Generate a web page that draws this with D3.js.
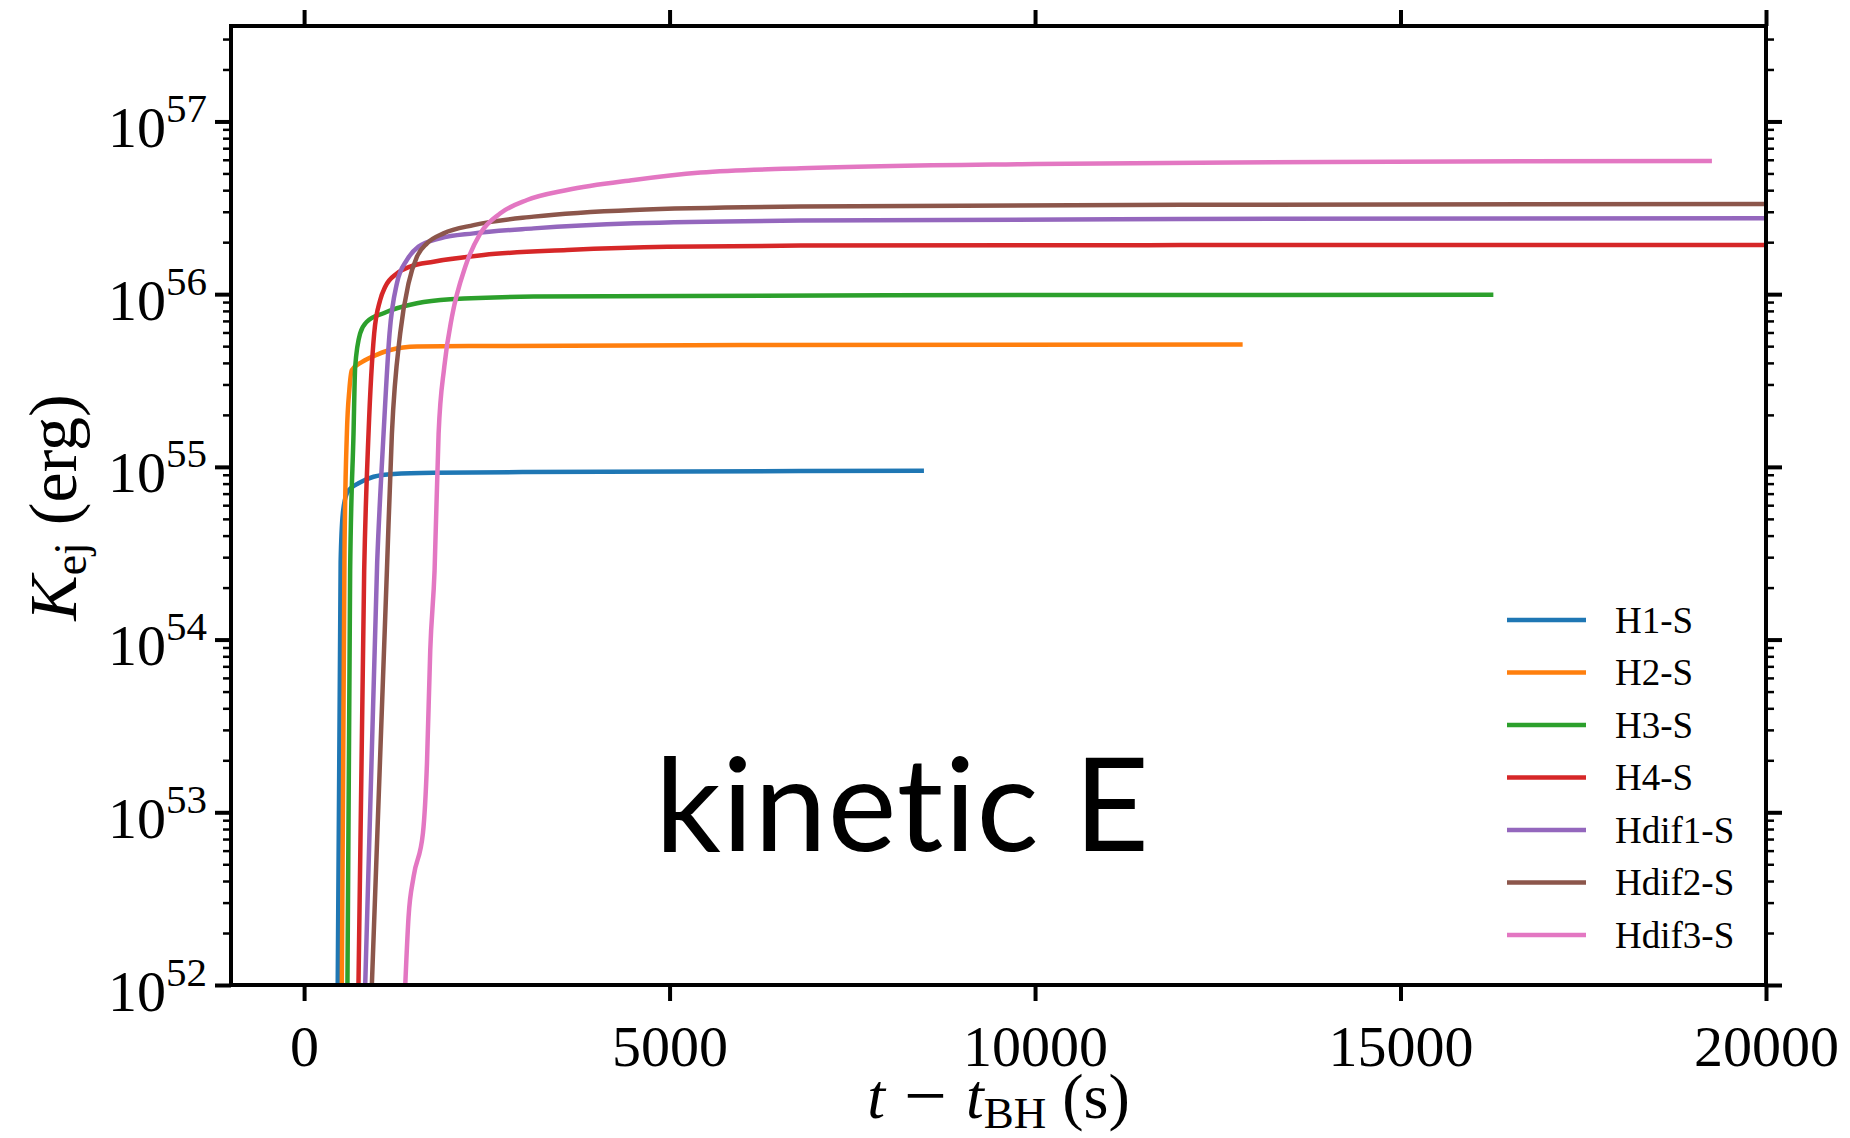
<!DOCTYPE html>
<html>
<head>
<meta charset="utf-8">
<script src="https://cdn.jsdelivr.net/npm/d3@7"></script>
<style>
    body { margin: 0; background: #fff; }
    svg { display: block; }
    .serif { font-family: "Liberation Serif", "Times New Roman", serif; }
</style>
</head>
<body>
<div id="chart"></div>
<script>
const seriesNames = ["H1-S", "H2-S", "H3-S", "H4-S", "Hdif1-S", "Hdif2-S", "Hdif3-S"]
const seriesColors = ["#1f77b4", "#ff7f0e", "#2ca02c", "#d62728", "#9467bd", "#8c564b", "#e377c2"]

// t - t_BH (s) and K_ej (erg)
const h1T = [460, 500, 530, 585, 650, 744, 950, 1224, 1772, 3000, 6795, 8480]
const h1K = [1e52, 2.82e54, 5.37e54, 7.03e54, 7.59e54, 8.04e54, 8.77e54, 9.10e54, 9.25e54, 9.33e54, 9.46e54, 9.51e54]

const h2T = [516, 553, 585, 620, 653, 800, 1000, 1178, 1544, 2500, 6000, 12840]
const h2K = [1e52, 3.31e54, 1.55e55, 2.82e55, 3.63e55, 4.07e55, 4.47e55, 4.75e55, 4.97e55, 5.01e55, 5.07e55, 5.11e55]

const h3T = [593, 630, 676, 699, 767, 859, 1087, 1544, 2000, 3141, 8000, 16270]
const h3K = [1e52, 2.51e54, 1.55e55, 3.80e55, 5.93e55, 6.92e55, 7.76e55, 8.85e55, 9.33e55, 9.68e55, 9.86e55, 9.91e55]

const h4T = [744, 822, 881, 959, 1041, 1110, 1270, 1452, 1771, 2456, 3598, 4968, 6795, 12000, 20000]
const h4K = [1e52, 2.51e54, 1.55e55, 5.93e55, 9.25e55, 1.104e56, 1.318e56, 1.445e56, 1.542e56, 1.687e56, 1.803e56, 1.884e56, 1.910e56, 1.923e56, 1.928e56]

const hdif1T = [836, 1000, 1087, 1169, 1270, 1407, 1566, 1863, 2319, 3141, 4511, 6795, 12000, 20000]
const hdif1K = [1e52, 2.82e54, 1.55e55, 5.93e55, 1.156e56, 1.578e56, 1.884e56, 2.104e56, 2.249e56, 2.404e56, 2.570e56, 2.667e56, 2.723e56, 2.754e56]

const hdif2T = [927, 1133, 1201, 1315, 1429, 1544, 1681, 1908, 2319, 3141, 4511, 6795, 12000, 20000]
const hdif2K = [1e52, 2.51e54, 1.55e55, 5.93e55, 1.156e56, 1.648e56, 1.968e56, 2.249e56, 2.512e56, 2.812e56, 3.076e56, 3.214e56, 3.289e56, 3.327e56]

const hdif3T = [1384, 1429, 1498, 1626, 1681, 1726, 1785, 1840, 1918, 2023, 2206, 2411, 2685, 3050, 3598, 4511, 5425, 6795, 10000, 14000, 19260]
const hdif3K = [1e52, 2.48e52, 4.24e52, 7.59e52, 1.92e53, 8.71e53, 2.51e54, 1.55e55, 3.80e55, 7.41e55, 1.445e56, 2.249e56, 2.938e56, 3.508e56, 4.009e56, 4.581e56, 5.058e56, 5.358e56, 5.675e56, 5.821e56, 5.902e56]

const xTicks = [0, 5000, 10000, 15000, 20000]
const xDomain = [-1000, 20000]
const yDomain = [1e52, 3.57e57]

const width = 1850
const height = 1138
const plot = { left: 231, right: 1766, top: 26, bottom: 985 }

const svg = d3.select("#chart").append("svg")
    .attr("width", width)
    .attr("height", height)

const x = d3.scaleLinear().domain(xDomain).range([plot.left, plot.right])
const y = d3.scaleLog().domain(yDomain).range([plot.bottom, plot.top])

const allT = [h1T, h2T, h3T, h4T, hdif1T, hdif2T, hdif3T]
const allK = [h1K, h2K, h3K, h4K, hdif1K, hdif2K, hdif3K]

const series = seriesNames.map((name, i) => ({
    name: name,
    color: seriesColors[i],
    points: allT[i].map((t, j) => ({ t: t, k: allK[i][j] }))
}))

svg.append("clipPath").attr("id", "plot-clip")
    .append("rect")
    .attr("x", plot.left)
    .attr("y", plot.top)
    .attr("width", plot.right - plot.left)
    .attr("height", plot.bottom - plot.top)

const line = d3.line()
    .x((d) => x(d.t))
    .y((d) => y(d.k))
    .curve(d3.curveMonotoneX)

svg.append("g")
    .attr("clip-path", "url(#plot-clip)")
    .selectAll("path")
    .data(series)
    .join("path")
    .attr("d", (d) => line(d.points))
    .attr("fill", "none")
    .attr("stroke", (d) => d.color)
    .attr("stroke-width", 4.5)
    .attr("stroke-linejoin", "round")

// big annotation
svg.append("text")
    .attr("x", 655)
    .attr("y", 851)
    .attr("font-family", "Lato, 'DejaVu Sans', sans-serif")
    .attr("font-size", 130)
    .attr("fill", "#000")
    .style("font-variant-ligatures", "none")
    .attr("textLength", 494)
    .text("kinetic E")

// legend
const legend = svg.append("g")
    .selectAll("g")
    .data(series)
    .join("g")
    .attr("transform", (d, i) => `translate(1507, ${620 + i * 52.5})`)

legend.append("line")
    .attr("x1", 0)
    .attr("x2", 79)
    .attr("stroke", (d) => d.color)
    .attr("stroke-width", 4.5)

legend.append("text")
    .attr("class", "serif")
    .attr("x", 108)
    .attr("y", 12.5)
    .attr("font-size", 37)
    .text((d) => d.name)

// axes
const yTickVals = y.ticks()
const yMajor = yTickVals.filter((v) => Math.abs(Math.log10(v) - Math.round(Math.log10(v))) < 1e-9)
const yMinor = yTickVals.filter((v) => !yMajor.includes(v))

function styleAxis(g) {
    g.select(".domain").remove()
    g.selectAll(".tick line").attr("stroke", "#000")
}

svg.append("g")
    .attr("transform", `translate(0, ${plot.bottom})`)
    .call(d3.axisBottom(x).tickValues(xTicks).tickSize(16).tickPadding(10).tickFormat(d3.format("d")))
    .call(styleAxis)
    .call((g) => g.selectAll(".tick line").attr("stroke-width", 4))
    .call((g) => g.selectAll(".tick text")
        .attr("class", "serif")
        .attr("font-size", 58)
        .attr("fill", "#000")
        .attr("dy", "0.95em"))

svg.append("g")
    .attr("transform", `translate(0, ${plot.top})`)
    .call(d3.axisTop(x).tickValues(xTicks).tickSize(16).tickFormat(""))
    .call(styleAxis)
    .call((g) => g.selectAll(".tick line").attr("stroke-width", 4))

svg.append("g")
    .attr("transform", `translate(${plot.left}, 0)`)
    .call(d3.axisLeft(y).tickValues(yMinor).tickSize(8).tickFormat(""))
    .call(styleAxis)
    .call((g) => g.selectAll(".tick line").attr("stroke-width", 2.5))

svg.append("g")
    .attr("transform", `translate(${plot.right}, 0)`)
    .call(d3.axisRight(y).tickValues(yMinor).tickSize(8).tickFormat(""))
    .call(styleAxis)
    .call((g) => g.selectAll(".tick line").attr("stroke-width", 2.5))

svg.append("g")
    .attr("transform", `translate(${plot.right}, 0)`)
    .call(d3.axisRight(y).tickValues(yMajor).tickSize(16).tickFormat(""))
    .call(styleAxis)
    .call((g) => g.selectAll(".tick line").attr("stroke-width", 4))

const yAxisLeft = svg.append("g")
    .attr("transform", `translate(${plot.left}, 0)`)
    .call(d3.axisLeft(y).tickValues(yMajor).tickSize(16).tickFormat(""))
    .call(styleAxis)
    .call((g) => g.selectAll(".tick line").attr("stroke-width", 4))

const yLabels = yAxisLeft.selectAll(".tick")
    .append("text")
    .attr("class", "serif")
    .attr("x", -24)
    .attr("y", 25)
    .attr("text-anchor", "end")
    .attr("fill", "#000")
    .attr("font-size", 58)

yLabels.append("tspan").text("10")
yLabels.append("tspan")
    .attr("font-size", 41)
    .attr("dy", -25)
    .text((d) => Math.round(Math.log10(d)))

// frame
svg.append("rect")
    .attr("x", plot.left)
    .attr("y", plot.top)
    .attr("width", plot.right - plot.left)
    .attr("height", plot.bottom - plot.top)
    .attr("fill", "none")
    .attr("stroke", "#000")
    .attr("stroke-width", 4)

// axis titles
const xTitle = svg.append("text")
    .attr("class", "serif")
    .attr("x", (plot.left + plot.right) / 2)
    .attr("y", 1118)
    .attr("text-anchor", "middle")
    .attr("font-size", 64)

xTitle.append("tspan").attr("font-style", "italic").text("t")
xTitle.append("tspan").attr("font-size", 76).attr("dy", 3).text(" \u2212 ")
xTitle.append("tspan").attr("dy", -3).attr("font-style", "italic").text("t")
xTitle.append("tspan").attr("font-size", 45).attr("dy", 10).text("BH")
xTitle.append("tspan").attr("dy", -10).text(" (s)")

const yTitle = svg.append("text")
    .attr("class", "serif")
    .attr("transform", `translate(76, ${(plot.top + plot.bottom) / 2 + 2}) rotate(-90)`)
    .attr("text-anchor", "middle")
    .attr("font-size", 68)

yTitle.append("tspan").attr("font-style", "italic").text("K")
yTitle.append("tspan").attr("font-size", 46).attr("dy", 10).text("ej")
yTitle.append("tspan").attr("dy", -10).text(" (erg)")
</script>
</body>
</html>
